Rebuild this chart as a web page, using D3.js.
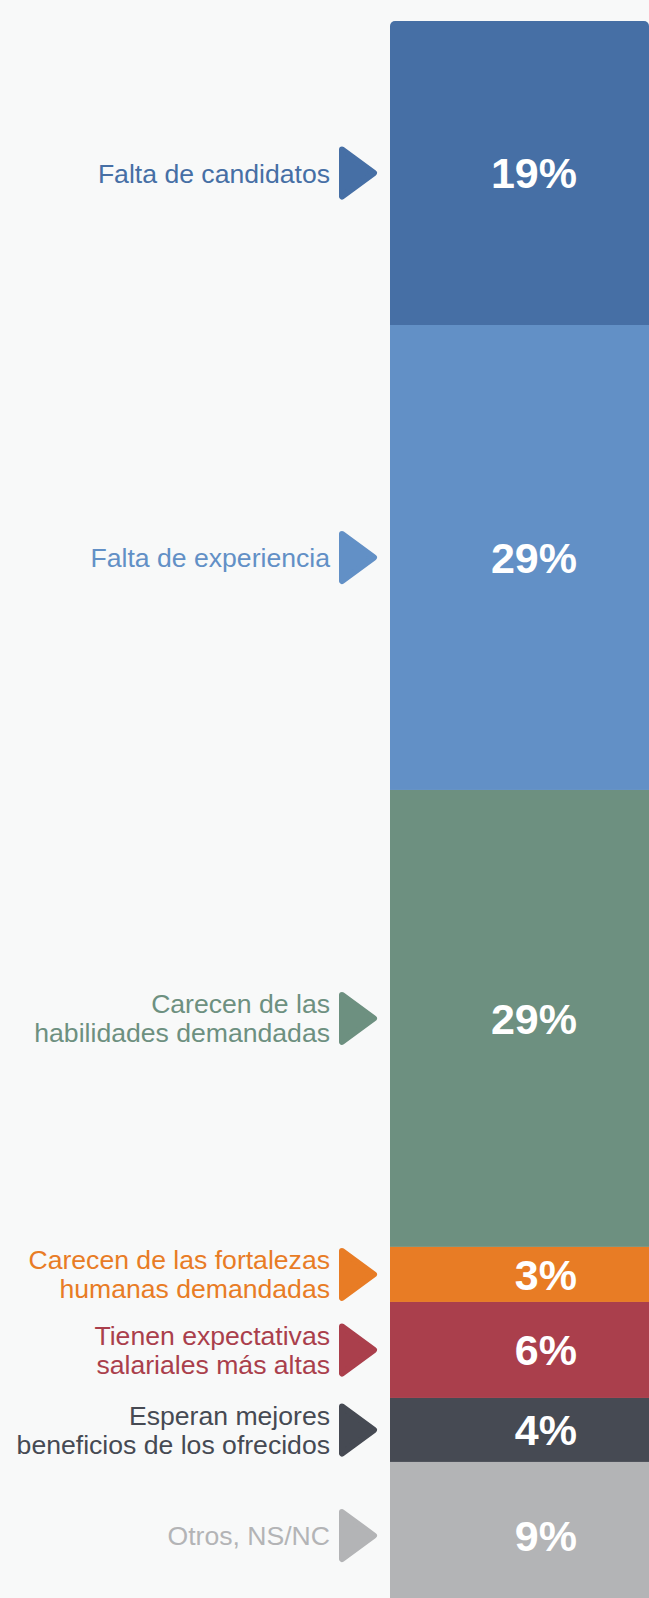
<!DOCTYPE html>
<html>
<head>
<meta charset="utf-8">
<script src="https://cdn.jsdelivr.net/npm/d3@7"></script>
<style>
    body { margin: 0; background: #f8f9f9; }
    svg { display: block; }
    text { font-family: "Helvetica Neue", Helvetica, "Liberation Sans", Arial, sans-serif; }
</style>
</head>
<body>
<div id="chart"></div>
<script>
// Reasons given (share of responses, %)
let categories = [
    ["Falta de candidatos"],
    ["Falta de experiencia"],
    ["Carecen de las", "habilidades demandadas"],
    ["Carecen de las fortalezas", "humanas demandadas"],
    ["Tienen expectativas", "salariales más altas"],
    ["Esperan mejores", "beneficios de los ofrecidos"],
    ["Otros, NS/NC"]
];
let values = [19, 29.06, 28.56, 3.44, 6, 4, 9.2];
let colors = ["#466fa5", "#6290c6", "#6d9080", "#e87c25", "#aa3f4c", "#464a53", "#b3b4b6"];

let width = 649, height = 1598;
let barX = 390, barW = 259;

let svg = d3.select("#chart").append("svg")
    .attr("width", width)
    .attr("height", height);

//Build the stacked segments
let segments = [];
let acc = 0;
values.forEach((v, i) => {
    segments.push({ name: categories[i], value: v, start: acc, end: acc + v, color: colors[i] });
    acc += v;
});

let yScale = d3.scaleLinear()
    .domain([0, 100])
    .range([21, 21 + 1600]);

svg.append("clipPath")
    .attr("id", "barClip")
    .append("rect")
    .attr("x", barX)
    .attr("y", yScale(0))
    .attr("width", barW)
    .attr("height", yScale(100) - yScale(0))
    .attr("rx", 5);

let bar = svg.append("g").attr("clip-path", "url(#barClip)");

bar.selectAll("rect")
    .data(segments)
    .enter().append("rect")
    .attr("x", barX)
    .attr("y", d => yScale(d.start))
    .attr("width", barW)
    .attr("height", d => yScale(d.end) - yScale(d.start))
    .attr("fill", d => d.color);

//Percent labels inside the bar
svg.selectAll(".pct")
    .data(segments)
    .enter().append("text")
    .attr("class", "pct")
    .attr("x", barX + 187)
    .attr("y", d => (yScale(d.start) + yScale(d.end)) / 2 + 15.4)
    .attr("text-anchor", "end")
    .attr("fill", "#fff")
    .style("font-size", "43px")
    .style("font-weight", "bold")
    .text(d => Math.round(d.value) + "%");

//Arrows pointing at the bar
svg.selectAll(".arrow")
    .data(segments)
    .enter().append("path")
    .attr("class", "arrow")
    .attr("d", d => {
        let c = (yScale(d.start) + yScale(d.end)) / 2;
        return "M342," + (c - 23.5) + "L374," + c + "L342," + (c + 23.5) + "Z";
    })
    .attr("fill", d => d.color)
    .attr("stroke", d => d.color)
    .attr("stroke-width", 6)
    .attr("stroke-linejoin", "round");

//Category labels, right aligned next to the arrows
let lineH = 29;
let labels = svg.selectAll(".label")
    .data(segments)
    .enter().append("text")
    .attr("class", "label")
    .attr("text-anchor", "end")
    .attr("fill", d => d.color)
    .style("font-size", "26.6px");

labels.each(function(d) {
    let c = (yScale(d.start) + yScale(d.end)) / 2;
    let n = d.name.length;
    d.name.forEach((line, j) => {
        d3.select(this).append("tspan")
            .attr("x", 330)
            .attr("y", c + (j - (n - 1) / 2) * lineH + 9.5)
            .text(line);
    });
});
</script>
</body>
</html>
